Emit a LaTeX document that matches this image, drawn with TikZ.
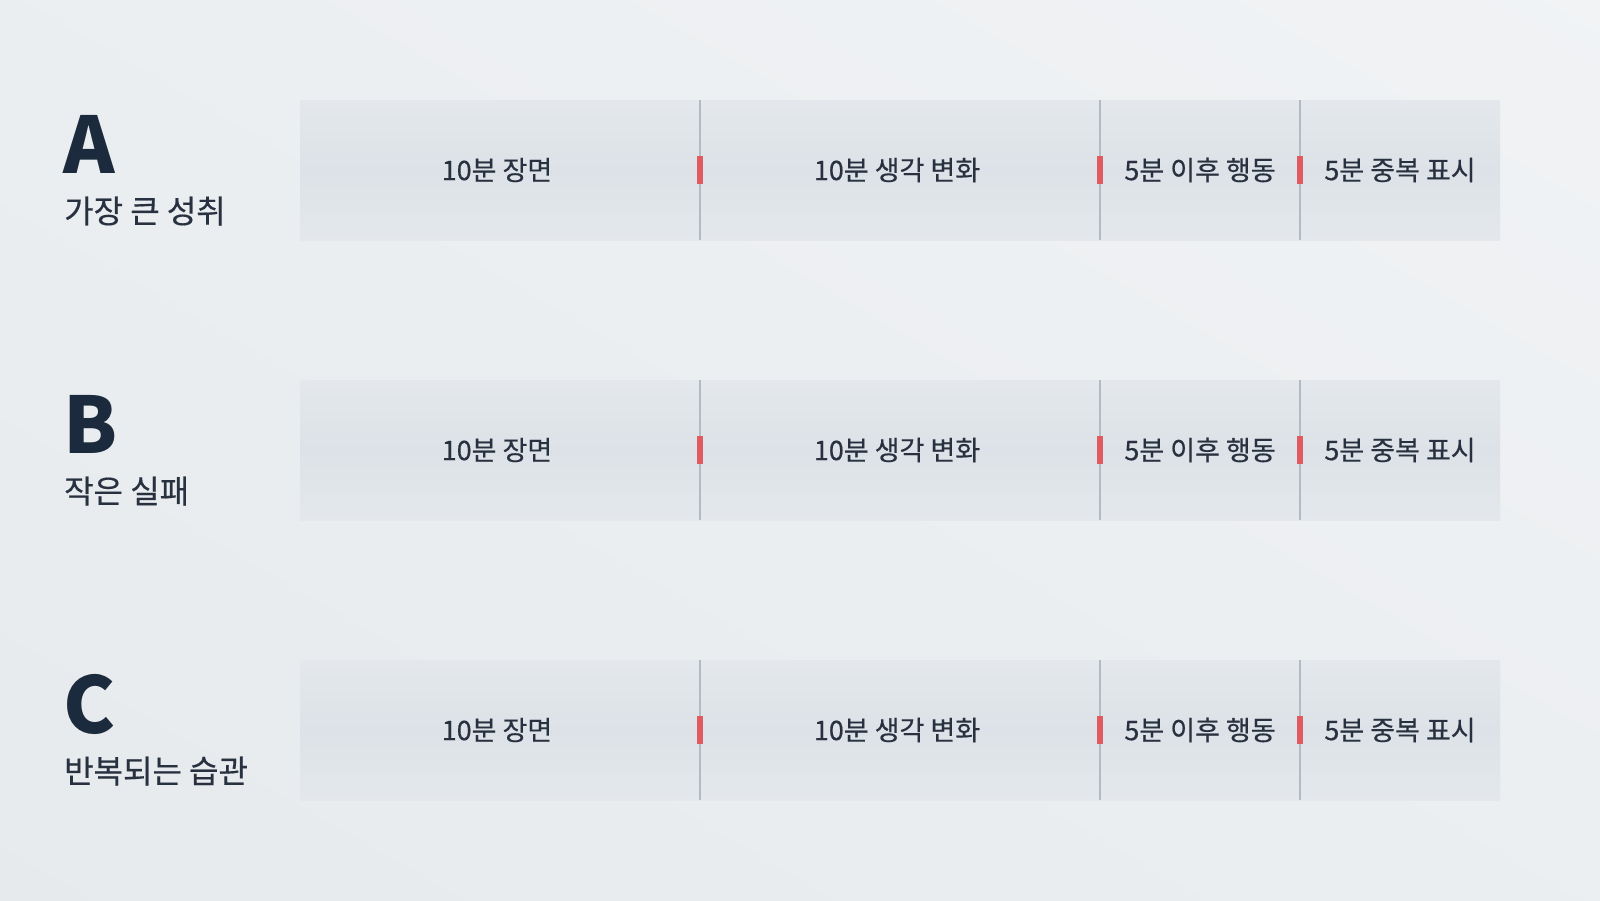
\documentclass[tikz,border=0pt]{standalone}
\usepackage{fontspec}
\setmainfont{Noto Sans CJK KR}
\newfontfamily\krmed{Noto Sans CJK KR}[FakeBold=0.45]
\usetikzlibrary{positioning}
\definecolor{bgA}{HTML}{F1F3F5}
\definecolor{bgB}{HTML}{E6EAED}
\definecolor{boxT}{HTML}{E4E8EC}
\definecolor{boxM}{HTML}{DCE2E7}
\definecolor{divc}{HTML}{B2BAC2}
\definecolor{redm}{HTML}{E05A5F}
\definecolor{navy}{HTML}{1B2A3D}
\definecolor{txt}{HTML}{28313F}
\tikzset{
  x=1pt, y=-1pt,
  seglabel/.style={font=\krmed\fontsize{27}{31}\selectfont, text=txt, anchor=center, inner sep=0pt},
  bigletter/.style={font=\fontsize{78}{80}\selectfont\bfseries, text=navy, anchor=base west, inner sep=0pt},
  sublabel/.style={font=\krmed\fontsize{32}{36}\selectfont, text=txt, anchor=base west, inner sep=0pt},
  divider/.style={draw=divc, line width=1.6pt},
  redmark/.style={fill=redm, draw=none},
  boxfill/.style={top color=boxT, bottom color=boxT, middle color=boxM, draw=none}
}
\begin{document}
\begin{tikzpicture}
\useasboundingbox (0,0) rectangle (1600,900);
\begin{scope}
\clip (0,0) rectangle (1600,900);
\shade[left color=bgA, right color=bgB, shading angle=-30] (-200,-300) rectangle (1800,1200);
\end{scope}
\foreach \r/\L/\S [count=\i from 0] in {A/A/{가장 큰 성취}, B/B/{작은 실패}, C/C/{반복되는 습관}}{
  \pgfmathsetmacro{\oy}{\i*280}
  \begin{scope}[yshift=-\oy pt]
    \shade[boxfill] (300,100) rectangle (1500,240);
    \node[bigletter] (let\r) at (63,173) {\L};
    \node[sublabel] (sub\r) at (64,223) {\S};
    \coordinate (d1t\r) at (700,100); \coordinate (d1b\r) at (700,240);
    \coordinate (d2t\r) at (1100,100); \coordinate (d2b\r) at (1100,240);
    \coordinate (d3t\r) at (1300,100); \coordinate (d3b\r) at (1300,240);
    \draw[divider] (d1t\r) -- (d1b\r);
    \draw[divider] (d2t\r) -- (d2b\r);
    \draw[divider] (d3t\r) -- (d3b\r);
    \fill[redmark] (697,156) rectangle (703,184);
    \fill[redmark] (1097,156) rectangle (1103,184);
    \fill[redmark] (1297,156) rectangle (1303,184);
    \node[seglabel] (s1\r) at (497,170) {10분 장면};
    \node[seglabel] (s2\r) at (897,170) {10분 생각 변화};
    \node[seglabel] (s3\r) at (1200,170) {5분 이후 행동};
    \node[seglabel] (s4\r) at (1400,170) {5분 중복 표시};
  \end{scope}
}
\end{tikzpicture}
\end{document}
